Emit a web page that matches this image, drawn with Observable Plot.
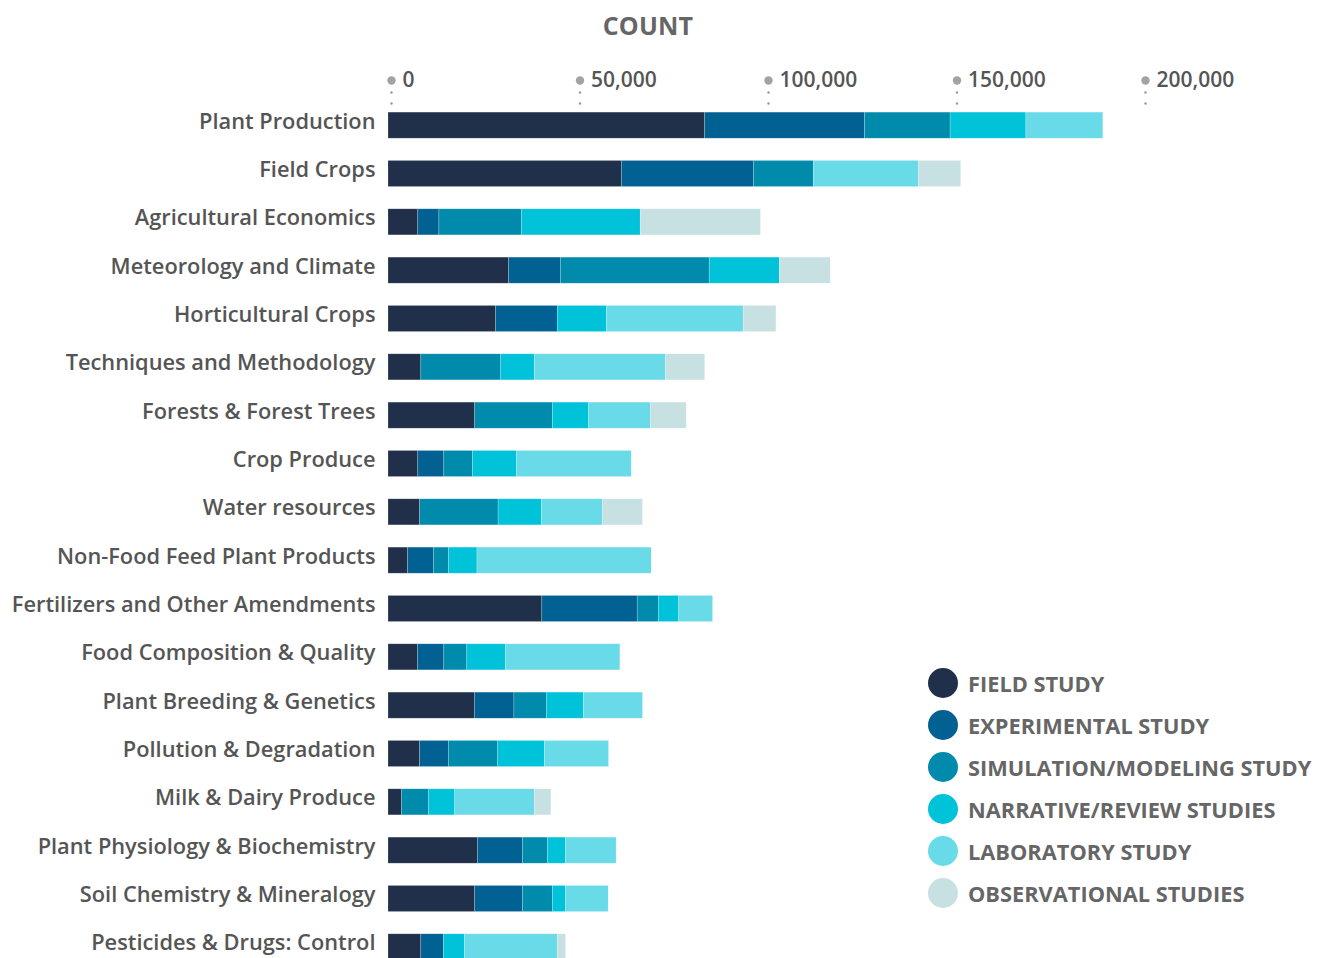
<!DOCTYPE html>
<html>
<head>
<meta charset="utf-8">
<script src="https://cdn.jsdelivr.net/npm/d3@7"></script>
<script src="https://cdn.jsdelivr.net/npm/@observablehq/plot@0.6"></script>
<style>
  html, body { margin: 0; padding: 0; background: #fff; overflow: hidden; }
  body { width: 1325px; height: 958px; position: relative; font-family: "Open Sans", sans-serif; }
  #title { position: absolute; left: 648px; top: 25px; transform: translate(-50%, -50%); font-size: 25px; font-weight: 700; color: #666; letter-spacing: 0.2px; }
  #chart { position: absolute; left: 0; top: 0; }
  #legend { position: absolute; left: 928px; top: 0; }
  .li { position: absolute; left: 0; height: 30px; display: flex; align-items: center; white-space: nowrap; }
  .sw { width: 30px; height: 30px; border-radius: 50%; margin-right: 10px; }
  .lt { font-size: 21.8px; font-weight: 700; color: #666; }
</style>
</head>
<body>
<div id="title">COUNT</div>
<div id="chart"></div>
<div id="legend"></div>
<script>
const categories = [
  "Plant Production", "Field Crops", "Agricultural Economics", "Meteorology and Climate",
  "Horticultural Crops", "Techniques and Methodology", "Forests & Forest Trees", "Crop Produce",
  "Water resources", "Non-Food Feed Plant Products", "Fertilizers and Other Amendments",
  "Food Composition & Quality", "Plant Breeding & Genetics", "Pollution & Degradation",
  "Milk & Dairy Produce", "Plant Physiology & Biochemistry", "Soil Chemistry & Mineralogy",
  "Pesticides & Drugs: Control"
];
const seriesNames = [
  "FIELD STUDY", "EXPERIMENTAL STUDY", "SIMULATION/MODELING STUDY",
  "NARRATIVE/REVIEW STUDIES", "LABORATORY STUDY", "OBSERVATIONAL STUDIES"
];
const seriesColors = ["#21304a", "#006192", "#008bad", "#00c3d9", "#68dae8", "#c7e1e3"];

const fieldStudy        = [84000, 61900, 7900, 32000, 28500, 8700, 23000, 7900, 8400, 5200, 40800, 7800, 22900, 8400, 3600, 23700, 23000, 8700];
const experimentalStudy = [42400, 35100, 5600, 13700, 16400, 0, 0, 6900, 0, 6900, 25300, 7000, 10500, 7600, 0, 12000, 12700, 6000];
const simulationStudy   = [22700, 15800, 21900, 39500, 0, 21200, 20600, 7600, 20800, 3900, 5600, 6100, 8600, 13100, 7100, 6600, 7900, 0];
const narrativeStudies  = [20100, 0, 31500, 18600, 13000, 8900, 9600, 11700, 11500, 7600, 5400, 10300, 9800, 12400, 7000, 4800, 3500, 5600];
const laboratoryStudy   = [20400, 27900, 0, 0, 36300, 34800, 16400, 30400, 16200, 46200, 9000, 30300, 15700, 17000, 21100, 13400, 11300, 24600];
const observational     = [0, 11200, 31900, 13500, 8700, 10400, 9500, 0, 10600, 0, 0, 0, 0, 0, 4400, 0, 0, 2200];

const xTicks = [0, 50000, 100000, 150000, 200000];

const seriesValues = [fieldStudy, experimentalStudy, simulationStudy, narrativeStudies, laboratoryStudy, observational];
const data = [];
categories.forEach((c, i) => {
  seriesNames.forEach((s, j) => {
    data.push({category: c, series: s, value: seriesValues[j][i]});
  });
});

const fmt = d3.format(",");

const chart = Plot.plot({
  width: 1325,
  height: 971,
  marginTop: 101,
  marginBottom: 0,
  marginLeft: 388,
  marginRight: 183,
  style: {fontFamily: "Open Sans, sans-serif", color: "#555", background: "transparent"},
  x: {domain: [0, 200000], axis: null},
  y: {domain: categories, paddingInner: 0.46, paddingOuter: 0.23, round: false, axis: null},
  color: {domain: seriesNames, range: seriesColors},
  marks: [
    Plot.barX(data, Plot.stackX({
      x: "value", y: "category", fill: "series", order: null,
      stroke: "#ffffff", strokeOpacity: 0.35, strokeWidth: 0.6
    })),
    Plot.axisY({tickSize: 0, tickPadding: 13, dy: -4, fontSize: 21.8, fontWeight: 600, fill: "#555", label: null}),
    Plot.dot(xTicks, {x: d => d, frameAnchor: "top", dy: -21, dx: 3, r: 4.2, fill: "#a3a3a3", stroke: null}),
    Plot.dot(xTicks, {x: d => d, frameAnchor: "top", dy: -9, dx: 3, r: 1.2, fill: "#999", stroke: null}),
    Plot.dot(xTicks, {x: d => d, frameAnchor: "top", dy: 2, dx: 3, r: 1.2, fill: "#999", stroke: null}),
    Plot.text(xTicks, {x: d => d, text: d => fmt(d), frameAnchor: "top", lineAnchor: "middle", dy: -21, dx: 14, textAnchor: "start", fontSize: 21, fontWeight: 600, fill: "#555"})
  ]
});
document.getElementById("chart").appendChild(chart);

const legend = document.getElementById("legend");
const legendTops = [668, 710, 752, 794, 836, 878];
seriesNames.forEach((s, i) => {
  const row = document.createElement("div");
  row.className = "li";
  row.style.top = legendTops[i] + "px";
  const sw = document.createElement("div");
  sw.className = "sw";
  sw.style.background = seriesColors[i];
  const t = document.createElement("span");
  t.className = "lt";
  t.textContent = s;
  row.appendChild(sw);
  row.appendChild(t);
  legend.appendChild(row);
});
</script>
</body>
</html>
